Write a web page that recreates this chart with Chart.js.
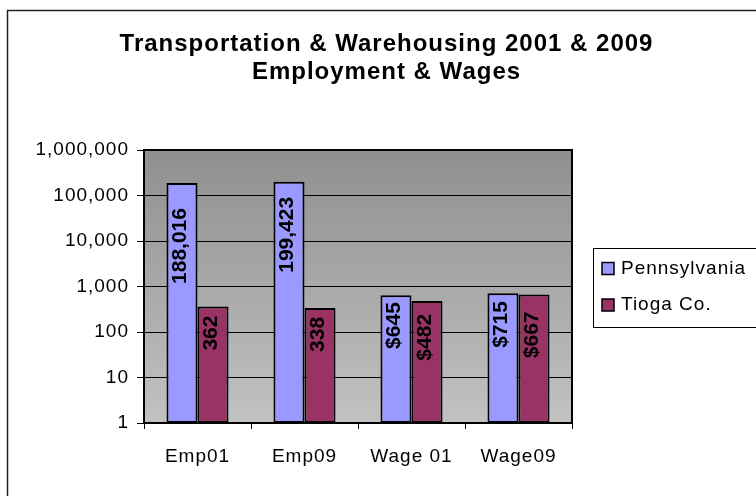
<!DOCTYPE html>
<html>
<head>
<meta charset="utf-8">
<script src="https://cdn.jsdelivr.net/npm/chart.js@4/dist/chart.umd.min.js"></script>
<style>
  html, body { margin: 0; padding: 0; background: #ffffff; }
  canvas { display: block; }
</style>
</head>
<body>
<canvas id="c" width="756" height="496"></canvas>
<script>
// ---- data ----
const categories = ['Emp01', 'Emp09', 'Wage 01', 'Wage09'];
const seriesNames = ['Pennsylvania', 'Tioga Co.'];
const pennsylvania = [188016, 199423, 645, 715];
const tioga = [362, 338, 482, 667];
const yTickValues = [1, 10, 100, 1000, 10000, 100000, 1000000];
const titleLines = ['Transportation & Warehousing 2001 & 2009', 'Employment & Wages'];

// ---- styles ----
const colors = ['#9999FF', '#993366'];
const FONT = "'Liberation Sans', Arial, sans-serif";
const LETTER_SPACING = '1px';
// distance (px) from bar top to end of rotated label, per series / category
const labelGap = [[25, 15, 7, 8], [9, 9, 13, 17]];

function fmtValue(catIndex, v) {
  const s = v.toLocaleString('en-US');
  return categories[catIndex].startsWith('Wage') ? '$' + s : s;
}

const spacingPlugin = {
  id: 'spacing',
  beforeUpdate(chart) { chart.ctx.letterSpacing = LETTER_SPACING; },
  beforeDraw(chart) { chart.ctx.letterSpacing = LETTER_SPACING; }
};

const decorPlugin = {
  id: 'decor',
  beforeDraw(chart) {
    const ctx = chart.ctx;
    const a = chart.chartArea;
    ctx.save();
    // outer chart frame
    ctx.strokeStyle = '#222';
    ctx.lineWidth = 1.5;
    ctx.strokeRect(7.5, 10.5, 820, 600);
    // plot gradient
    const g = ctx.createLinearGradient(0, a.top, 0, a.bottom);
    g.addColorStop(0, '#8f8f8f');
    g.addColorStop(1, '#c2c2c2');
    ctx.fillStyle = g;
    ctx.fillRect(a.left, a.top, a.right - a.left, a.bottom - a.top);
    ctx.restore();
  },
  afterDatasetsDraw(chart) {
    const ctx = chart.ctx;
    const a = chart.chartArea;
    ctx.save();
    // plot border
    ctx.strokeStyle = '#000';
    ctx.lineWidth = 2;
    ctx.strokeRect(a.left, a.top, a.right - a.left, a.bottom - a.top);
    // bar labels
    ctx.letterSpacing = '0px';
    ctx.font = "bold 21px " + FONT;
    ctx.fillStyle = '#000';
    ctx.textAlign = 'right';
    ctx.textBaseline = 'middle';
    chart.data.datasets.forEach((ds, di) => {
      const meta = chart.getDatasetMeta(di);
      meta.data.forEach((el, i) => {
        ctx.save();
        ctx.translate(el.x - 2, el.y + labelGap[di][i]);
        ctx.rotate(-Math.PI / 2);
        ctx.fillText(fmtValue(i, ds.data[i]), 0, 0);
        ctx.restore();
      });
    });
    ctx.restore();
  },
  afterDraw(chart) {
    const ctx = chart.ctx;
    ctx.save();
    ctx.letterSpacing = LETTER_SPACING;
    // legend frame
    ctx.strokeStyle = '#000';
    ctx.lineWidth = 1;
    ctx.strokeRect(593.5, 248.5, 220, 79);
    ctx.font = "19px " + FONT;
    ctx.textAlign = 'left';
    ctx.textBaseline = 'middle';
    const rows = [268.5, 305];
    chart.data.datasets.forEach((ds, di) => {
      const y = rows[di];
      ctx.fillStyle = ds.backgroundColor;
      ctx.fillRect(602, y - 6, 12, 12);
      ctx.strokeStyle = '#000';
      ctx.lineWidth = 1.5;
      ctx.strokeRect(602, y - 6, 12, 12);
      ctx.fillStyle = '#000';
      ctx.fillText(ds.label, 621, y);
    });
    ctx.restore();
  }
};

new Chart(document.getElementById('c'), {
  type: 'bar',
  data: {
    labels: categories,
    datasets: [
      { label: seriesNames[0], data: pennsylvania, backgroundColor: colors[0], borderColor: '#000', borderWidth: 2, borderSkipped: false, xAxisID: 'x', yAxisID: 'y' },
      { label: seriesNames[1], data: tioga, backgroundColor: colors[1], borderColor: '#000', borderWidth: 2, borderSkipped: false, xAxisID: 'x', yAxisID: 'y' }
    ]
  },
  options: {
    responsive: false,
    devicePixelRatio: 1,
    animation: false,
    layout: { padding: { left: 17, right: 0, top: 0, bottom: 0 } },
    datasets: { bar: { categoryPercentage: 0.58, barPercentage: 1.0 } },
    plugins: {
      legend: { display: false },
      tooltip: { enabled: false },
      title: {
        display: true,
        text: titleLines,
        color: '#000',
        font: { family: FONT, size: 24, weight: 'bold', lineHeight: '28px' },
        padding: { top: 30, bottom: 64 }
      }
    },
    scales: {
      x: {
        type: 'category',
        position: 'bottom',
        grid: { display: true, offset: true, drawOnChartArea: false, drawTicks: true, tickLength: 6, color: '#000', lineWidth: 1 },
        border: { display: true, color: '#000', width: 2 },
        ticks: { color: '#000', font: { family: FONT, size: 19 }, padding: 16, maxRotation: 0, autoSkip: false },
        afterFit(s) { s.height = 73; }
      },
      y: {
        type: 'logarithmic',
        position: 'left',
        min: 1,
        max: 1000000,
        grid: { color: '#000', lineWidth: 1, tickLength: 7, drawTicks: true },
        border: { display: true, color: '#000', width: 2 },
        ticks: {
          color: '#000',
          font: { family: FONT, size: 19 },
          padding: 8,
          autoSkip: false,
          callback: (v) => Number(v).toLocaleString('en-US')
        },
        afterBuildTicks(s) { s.ticks = yTickValues.map(v => ({ value: v })); },
        afterFit(s) { s.width = 127; }
      },
      yRight: {
        type: 'linear',
        position: 'right',
        display: true,
        grid: { display: false },
        border: { display: false },
        ticks: { display: false },
        afterFit(s) { s.width = 184; }
      }
    }
  },
  plugins: [spacingPlugin, decorPlugin]
});
</script>
</body>
</html>
